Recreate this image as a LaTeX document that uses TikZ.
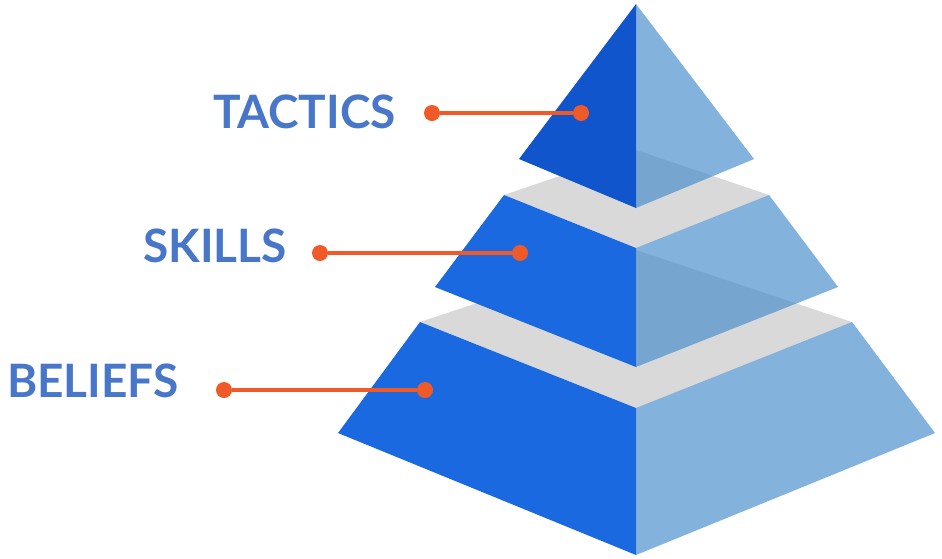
\documentclass[tikz,border=0pt]{standalone}
\usepackage{fontspec}
\setmainfont{Lato}
\usetikzlibrary{positioning}

\definecolor{frontblue}{HTML}{1B69E0}
\definecolor{topblue}{HTML}{1155CC}
\definecolor{sideblue}{RGB}{72,141,204}
\definecolor{bandgray}{HTML}{D9D9D9}
\definecolor{labelblue}{HTML}{4876C8}
\definecolor{leadorange}{HTML}{F05A28}

\begin{document}
\begin{tikzpicture}[x=1pt,y=-1pt,
    tier/.style={font=\fontsize{46}{46}\selectfont\bfseries,text=labelblue,inner sep=0pt},
    dot/.style={circle,fill=leadorange,minimum size=16pt,inner sep=0pt},
    leader/.style={draw=leadorange,line width=4pt},
    band/.style={fill=bandgray},
    lface/.style={fill=frontblue},
    rface/.style={fill=sideblue,fill opacity=0.68}]

        \useasboundingbox (0,0) rectangle (942,558);

        % bottom tier
        \fill[band] (636,250) -- (852,322) -- (636,408) -- (420,322) -- cycle;
        \fill[lface] (420,322) -- (636,408) -- (636,555) -- (338,433) -- cycle;
        \fill[rface] (636,408) -- (852,322) -- (935,433) -- (636,555) -- cycle;

        % middle tier
        \fill[band] (636,150) -- (769,195) -- (636,248) -- (504,195) -- cycle;
        \fill[lface] (504,195) -- (636,248) -- (636,367) -- (435,287) -- cycle;
        \fill[rface] (636,248) -- (769,195) -- (838,287) -- (636,367) -- cycle;

        % top tier
        \fill[topblue] (636,4) -- (636,208) -- (519,159) -- cycle;
        \fill[rface] (636,4) -- (754,159) -- (636,208) -- cycle;

        % labels
        \node [tier,anchor=base east] (tactics) at (396,128) {TACTICS};
        \node [tier,anchor=base east] (skills) at (287,262) {SKILLS};
        \node [tier,anchor=base east] (beliefs) at (179,397) {BELIEFS};

        \node [dot] (t1) at (432,113) {};
        \node [dot] (t2) at (581,113) {};
        \node [dot] (s1) at (320,253) {};
        \node [dot] (s2) at (520,253) {};
        \node [dot] (b1) at (224,390) {};
        \node [dot] (b2) at (425,390) {};

        \draw [leader] (t1) -- (t2);
        \draw [leader] (s1) -- (s2);
        \draw [leader] (b1) -- (b2);
    \end{tikzpicture}
\end{document}
